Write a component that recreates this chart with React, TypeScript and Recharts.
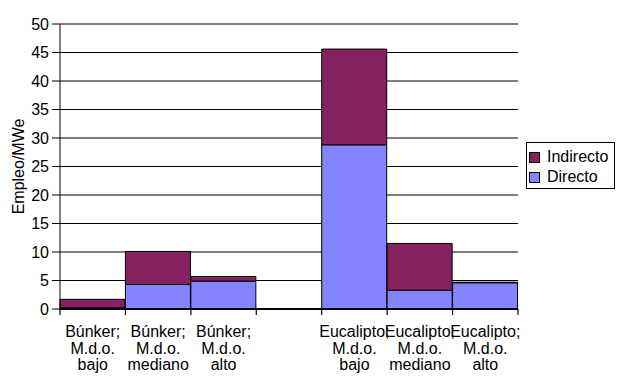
import { BarChart, Bar, XAxis, YAxis, CartesianGrid } from "recharts";

// categories (lines separated by \n), empty slot between the two groups
const categories = [
  "Búnker;\nM.d.o.\nbajo",
  "Búnker;\nM.d.o.\nmediano",
  "Búnker;\nM.d.o.\nalto",
  "",
  "Eucalipto;\nM.d.o.\nbajo",
  "Eucalipto;\nM.d.o.\nmediano",
  "Eucalipto;\nM.d.o.\nalto",
];
const directo = [0.2, 4.3, 4.9, null, 28.8, 3.3, 4.6];
const indirecto = [1.5, 5.8, 0.8, null, 16.8, 8.2, 0.1];
const yTicks = [0, 5, 10, 15, 20, 25, 30, 35, 40, 45, 50];

const chartData = categories.map((name, i) => ({
  name,
  Directo: directo[i],
  Indirecto: indirecto[i],
}));

const W = 623;
const H = 382;
const M = { top: 24, right: 105, left: 0, bottom: 0 };
const Y_AXIS_W = 60;
const X_AXIS_H = 73;
const BAND = (W - M.left - M.right - Y_AXIS_W) / categories.length;

const FONT = "'Liberation Sans', Arial, sans-serif";
const C_IND = "#852160";
const C_DIR = "#8484FF";

// eslint-disable-next-line @typescript-eslint/no-explicit-any
const CategoryTick = (props: any) => {
  const { x, y, payload, index } = props;
  const lines = String(payload.value).split("\n");
  const half = BAND / 2;
  return (
    <g>
      <line x1={x - half} y1={y} x2={x - half} y2={y + 6} stroke="#000" strokeWidth={1.2} />
      {index === categories.length - 1 && (
        <line x1={x + half} y1={y} x2={x + half} y2={y + 6} stroke="#000" strokeWidth={1.2} />
      )}
      <text x={x} y={y + 28} textAnchor="middle" fontSize={16} fontFamily={FONT} fill="#000">
        {lines.map((l, i) => (
          <tspan key={i} x={x} dy={i === 0 ? 0 : 16.5}>
            {l}
          </tspan>
        ))}
      </text>
    </g>
  );
};

// eslint-disable-next-line @typescript-eslint/no-explicit-any
const YLabel = (props: any) => {
  const { viewBox } = props;
  const cx = 18;
  const cy = viewBox.y + viewBox.height / 2;
  return (
    <text
      x={cx}
      y={cy}
      transform={`rotate(-90, ${cx}, ${cy})`}
      textAnchor="middle"
      dominantBaseline="central"
      fontSize={16}
      fontFamily={FONT}
      fill="#000"
    >
      Empleo/MWe
    </text>
  );
};

const LegendBox = () => {
  const items = [
    { label: "Indirecto", color: C_IND },
    { label: "Directo", color: C_DIR },
  ];
  return (
    <div
      style={{
        position: "absolute",
        left: 526,
        top: 142,
        border: "1px solid #000",
        background: "#fff",
        width: 87,
        height: 45,
        boxSizing: "content-box",
        fontFamily: FONT,
        fontSize: 16,
        color: "#000",
      }}
    >
      {items.map((it, i) => (
        <div
          key={it.label}
          style={{
            position: "absolute",
            left: 2,
            top: 4 + i * 20,
            height: 20,
            display: "flex",
            alignItems: "center",
            lineHeight: "20px",
            whiteSpace: "nowrap",
          }}
        >
          <span
            style={{
              display: "inline-block",
              width: 9,
              height: 9,
              background: it.color,
              border: "1px solid #000",
              marginRight: 7,
            }}
          />
          {it.label}
        </div>
      ))}
    </div>
  );
};

export default function App() {
  return (
    <div style={{ position: "absolute", left: 0, top: 0, width: W, height: H, background: "#fff" }}>
      <BarChart width={W} height={H} data={chartData} margin={M} barCategoryGap={0} barGap={0}>
        <CartesianGrid vertical={false} stroke="#000" strokeWidth={1} />
        <XAxis
          dataKey="name"
          interval={0}
          height={X_AXIS_H}
          tickLine={false}
          tickSize={0}
          tickMargin={0}
          axisLine={{ stroke: "#000", strokeWidth: 2 }}
          tick={<CategoryTick />}
        />
        <YAxis
          width={Y_AXIS_W}
          domain={[0, 50]}
          ticks={yTicks}
          interval={0}
          tickSize={8}
          tickMargin={3}
          tickLine={{ stroke: "#000" }}
          axisLine={{ stroke: "#000" }}
          tick={{ fill: "#000", fontSize: 16, fontFamily: FONT }}
          label={<YLabel />}
        />
        <Bar dataKey="Directo" stackId="a" fill={C_DIR} stroke="#000" strokeWidth={1} isAnimationActive={false} />
        <Bar dataKey="Indirecto" stackId="a" fill={C_IND} stroke="#000" strokeWidth={1} isAnimationActive={false} />
      </BarChart>
      <LegendBox />
    </div>
  );
}
